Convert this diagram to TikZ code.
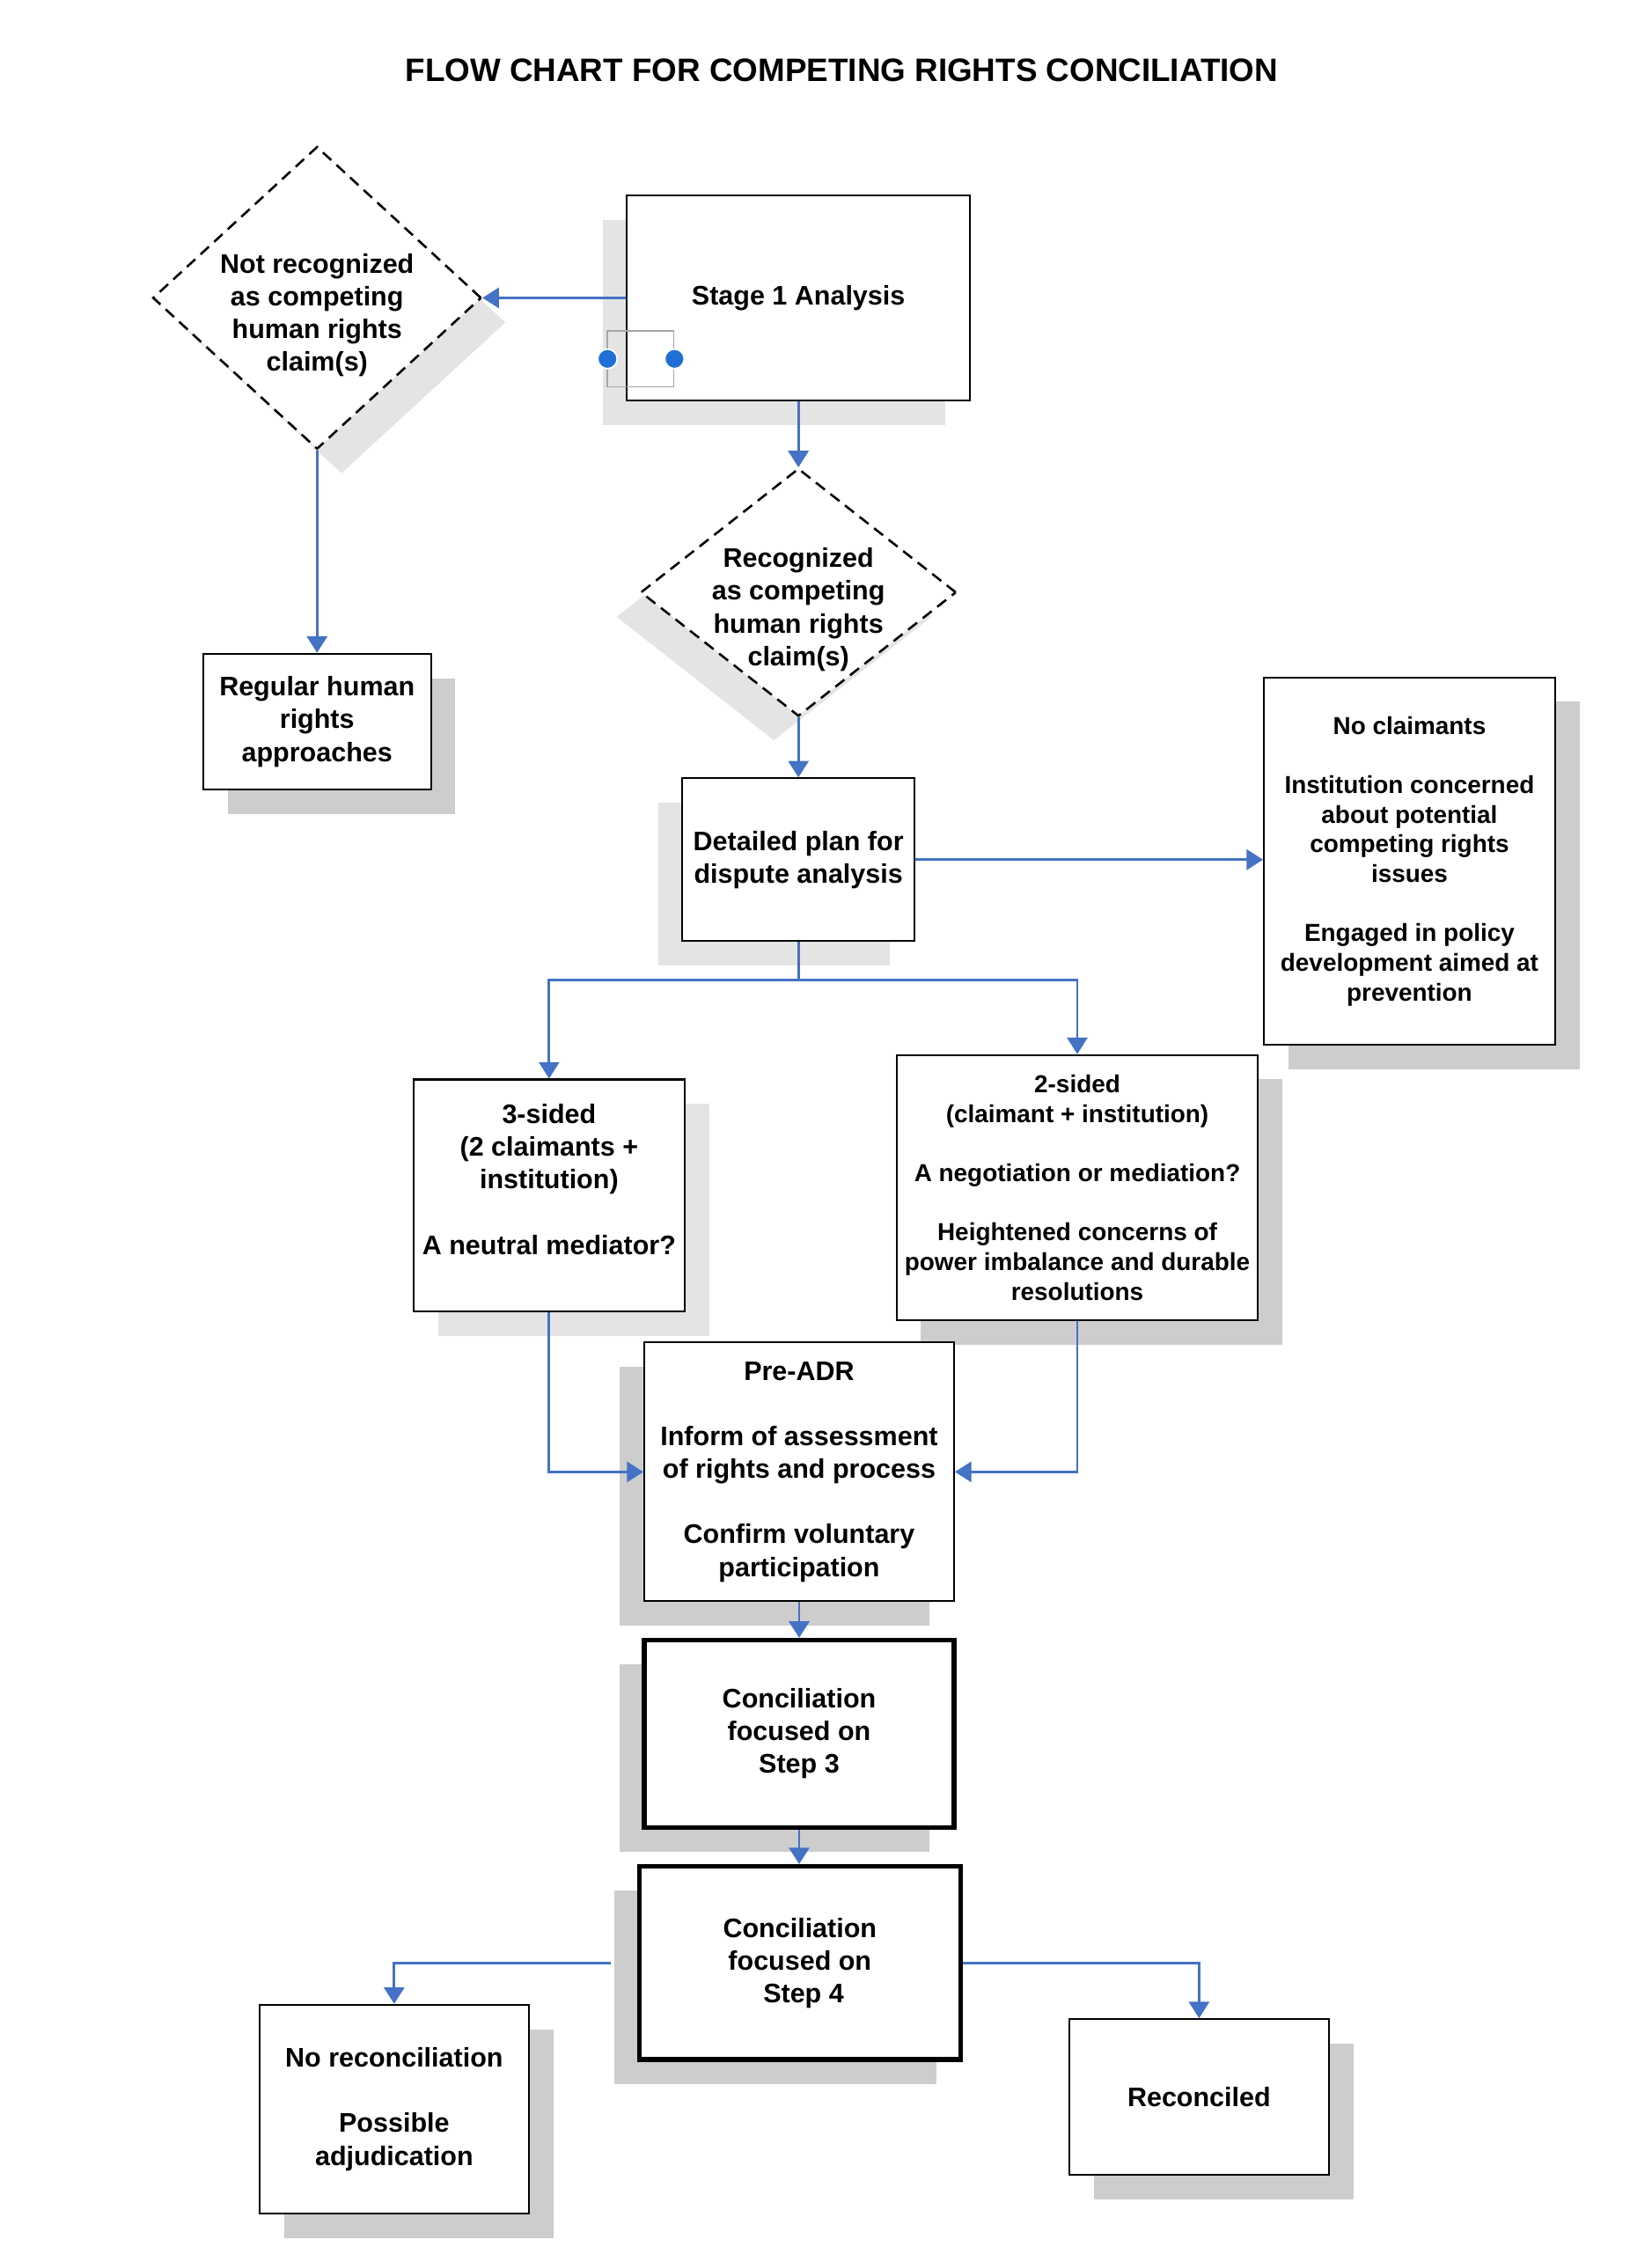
\documentclass[tikz,border=0pt]{standalone}
\usepackage{fontspec}
\setmainfont{Liberation Sans}
\usetikzlibrary{shapes.geometric,shadows,arrows.meta}
\definecolor{cblue}{HTML}{4472C4}
\definecolor{shdL}{HTML}{E4E4E4}
\definecolor{shdD}{HTML}{CDCDCD}
\definecolor{dotblue}{HTML}{1F6FD6}
\begin{document}
\begin{tikzpicture}[x=0.02cm,y=-0.02cm,
  txt/.style={font=\fontsize{10.6}{12.9}\selectfont\bfseries, align=center},
  txts/.style={font=\fontsize{9.7}{11.7}\selectfont\bfseries, align=center},
  box/.style={draw=black, line width=0.7pt, fill=white, rectangle, inner sep=2pt},
  thickbox/.style={box, line width=1.8pt},
  shR/.style={general shadow={fill=#1, shadow xshift=0.34cm, shadow yshift=-0.34cm}},
  shL/.style={general shadow={fill=#1, shadow xshift=-0.34cm, shadow yshift=-0.34cm}},
  dia/.style={diamond, draw=black, fill=white, line width=0.9pt, dash pattern=on 4.5pt off 2.8pt, inner sep=0pt},
  conn/.style={draw=cblue, line width=1pt, -{Triangle[length=6.5pt,width=8pt]}},
  plainconn/.style={draw=cblue, line width=1pt}
]
\fill[white] (0,0) rectangle (1146,1564);
\useasboundingbox (0,0) rectangle (1146,1564);

\node[font=\fontsize{12.8}{15}\selectfont\bfseries] (title) at (584,49) {FLOW CHART FOR COMPETING RIGHTS CONCILIATION};

% Stage 1
\node[box, shL=shdL, minimum width=4.76cm, minimum height=2.85cm, txt] (s1) at (554,206.7) {Stage 1 Analysis};
\node[draw=gray!70, line width=0.5pt, minimum width=0.92cm, minimum height=0.77cm, inner sep=0pt] (sel) at (444.5,249) {};
\node[circle, fill=dotblue, draw=white, line width=0.6pt, minimum size=0.27cm, inner sep=0pt] (h1) at (421.5,249) {};
\node[circle, fill=dotblue, draw=white, line width=0.6pt, minimum size=0.27cm, inner sep=0pt] (h2) at (468,249) {};

% Diamonds
\node[dia, shR=shdL, minimum width=4.56cm, minimum height=4.2cm,
  label={[txt, yshift=-0.24cm]center:Not recognized\\as competing\\human rights\\claim(s)}] (d1) at (220,206.7) {};
\node[dia, shL=shdL, minimum width=4.38cm, minimum height=3.44cm,
  label={[txt, yshift=-0.24cm]center:Recognized\\as competing\\human rights\\claim(s)}] (d2) at (554,411) {};

% Boxes
\node[box, shR=shdD, minimum width=3.16cm, minimum height=1.89cm, txt] (reg) at (220,500.8) {Regular human\\rights\\approaches};
\node[box, shL=shdL, minimum width=3.22cm, minimum height=2.26cm, txt] (det) at (554,596.5) {Detailed plan for\\dispute analysis};
\node[box, shR=shdD, minimum width=4.04cm, minimum height=5.1cm, txts] (noc) at (978,597.5) {No claimants\\~\\Institution concerned\\about potential\\competing rights\\issues\\~\\Engaged in policy\\development aimed at\\prevention};
\node[box, shR=shdL, minimum width=3.76cm, minimum height=3.22cm, txt] (three) at (381,829.5) {3-sided\\(2 claimants +\\institution)\\~\\A neutral mediator?\\~};
\node[box, shR=shdD, minimum width=5.02cm, minimum height=3.68cm, txts] (two) at (747.5,824) {2-sided\\(claimant + institution)\\~\\A negotiation or mediation?\\~\\Heightened concerns of\\power imbalance and durable\\resolutions};
\node[box, shL=shdD, minimum width=4.3cm, minimum height=3.59cm, txt] (pre) at (554.5,1021.3) {Pre-ADR\\~\\Inform of assessment\\of rights and process\\~\\Confirm voluntary\\participation};
\node[thickbox, shL=shdD, minimum width=4.3cm, minimum height=2.6cm, txt] (s3) at (554.5,1203) {Conciliation\\focused on\\Step 3};
\node[thickbox, shL=shdD, minimum width=4.46cm, minimum height=2.68cm, txt] (s4) at (555,1362) {Conciliation\\focused on\\\ Step 4};
\node[box, shR=shdD, minimum width=3.74cm, minimum height=2.9cm, txt] (norec) at (273.5,1463.5) {No reconciliation\\~\\Possible\\adjudication};
\node[box, shR=shdD, minimum width=3.6cm, minimum height=2.16cm, txt] (rec) at (832,1455) {Reconciled};

% Connectors
\coordinate (br) at (554,680);
\draw[conn] (s1.west) -- (s1.west -| d1.east);
\draw[conn] (d1.south) -- (reg.north);
\draw[conn] (s1.south) -- (s1.south |- d2.north);
\draw[conn] (d2.south) -- (d2.south |- det.north);
\draw[conn] (det.east) -- (det.east -| noc.west);
\draw[plainconn] (det.south) -- (br);
\draw[conn] (br) -| (three.north);
\draw[conn] (br) -| (two.north);
\draw[conn] (three.south) |- (pre.west);
\draw[conn] (two.south) |- (pre.east);
\draw[conn] (pre.south) -- (pre.south |- s3.north);
\draw[conn] (s3.south) -- (s3.south |- s4.north);
\draw[conn] ([xshift=-0.36cm]s4.west) -| (norec.north);
\draw[conn] (s4.east) -| (rec.north);
\end{tikzpicture}
\end{document}
